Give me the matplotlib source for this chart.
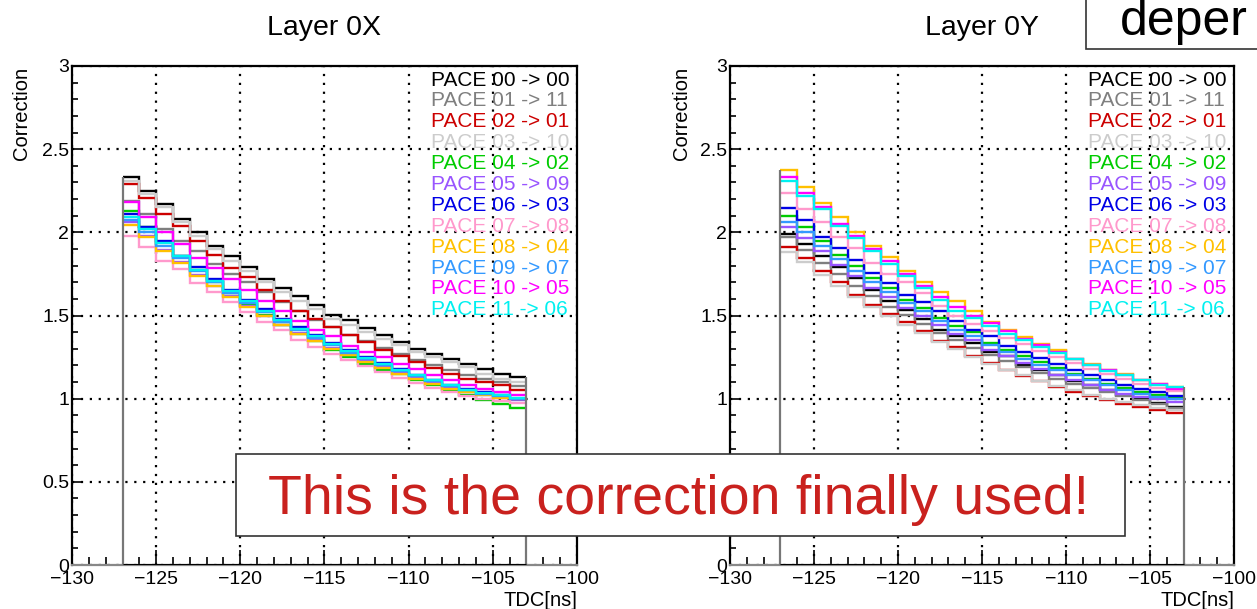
import matplotlib.pyplot as plt
import numpy as np
from matplotlib.patches import Rectangle
from matplotlib.ticker import MultipleLocator, FuncFormatter

plt.rcParams["font.family"] = ["Liberation Sans", "DejaVu Sans"]

W, H = 1257, 609

# 24 bins of 1 ns between -127 and -103 ns
TDC_EDGES = np.arange(-127, -102)

PACE_LABELS = [
    "PACE 00 -> 00", "PACE 01 -> 11", "PACE 02 -> 01", "PACE 03 -> 10",
    "PACE 04 -> 02", "PACE 05 -> 09", "PACE 06 -> 03", "PACE 07 -> 08",
    "PACE 08 -> 04", "PACE 09 -> 07", "PACE 10 -> 05", "PACE 11 -> 06",
]
PACE_COLORS = [
    "#000000", "#7f7f7f", "#cc0000", "#cccccc", "#00cc00", "#9955ff",
    "#0000e6", "#ff99cc", "#ffc000", "#3399ff", "#ff00ff", "#00f0f0",
]

# Layer 0X corrections per bin
X00 = [2.335, 2.25, 2.17, 2.08, 2.00, 1.92, 1.855, 1.79, 1.72, 1.665, 1.615, 1.565,
       1.505, 1.47, 1.425, 1.38, 1.34, 1.30, 1.27, 1.24, 1.21, 1.18, 1.15, 1.13]
X01 = [2.19, 2.11, 2.02, 1.95, 1.885, 1.81, 1.75, 1.70, 1.64, 1.58, 1.525, 1.475,
       1.43, 1.385, 1.345, 1.305, 1.27, 1.235, 1.20, 1.17, 1.14, 1.12, 1.10, 1.076]
X02 = [2.29, 2.205, 2.11, 2.04, 1.95, 1.865, 1.785, 1.73, 1.655, 1.59, 1.53, 1.48,
       1.43, 1.38, 1.34, 1.295, 1.255, 1.22, 1.185, 1.15, 1.12, 1.10, 1.08, 1.05]
X03 = [2.31, 2.23, 2.15, 2.06, 1.98, 1.90, 1.83, 1.77, 1.70, 1.64, 1.59, 1.54,
       1.48, 1.44, 1.40, 1.36, 1.32, 1.28, 1.25, 1.22, 1.19, 1.15, 1.12, 1.10]
X04 = [2.13, 2.03, 1.94, 1.855, 1.775, 1.70, 1.635, 1.57, 1.505, 1.445, 1.39, 1.345,
       1.29, 1.25, 1.21, 1.175, 1.15, 1.115, 1.08, 1.05, 1.02, 0.99, 0.965, 0.943]
X05 = [2.06, 1.975, 1.895, 1.82, 1.745, 1.68, 1.615, 1.555, 1.50, 1.445, 1.395, 1.35,
       1.305, 1.265, 1.225, 1.19, 1.155, 1.125, 1.095, 1.065, 1.04, 1.02, 1.005, 0.99]
X06 = [2.11, 2.03, 1.945, 1.86, 1.79, 1.72, 1.655, 1.595, 1.54, 1.48, 1.43, 1.38,
       1.335, 1.29, 1.25, 1.215, 1.18, 1.145, 1.115, 1.085, 1.06, 1.04, 1.02, 1.00]
X07 = [1.98, 1.91, 1.83, 1.78, 1.695, 1.64, 1.58, 1.52, 1.46, 1.41, 1.35, 1.31,
       1.27, 1.23, 1.195, 1.16, 1.125, 1.095, 1.065, 1.04, 1.015, 0.995, 0.985, 0.975]
X08 = [2.045, 1.97, 1.89, 1.815, 1.74, 1.675, 1.61, 1.55, 1.495, 1.44, 1.39, 1.345,
       1.30, 1.26, 1.22, 1.185, 1.15, 1.12, 1.09, 1.06, 1.04, 1.02, 1.005, 0.995]
X09 = [2.075, 2.00, 1.92, 1.845, 1.765, 1.70, 1.635, 1.575, 1.52, 1.46, 1.41, 1.365,
       1.32, 1.275, 1.24, 1.20, 1.165, 1.135, 1.105, 1.075, 1.05, 1.03, 1.015, 1.00]
X10 = [2.18, 2.09, 2.00, 1.93, 1.845, 1.785, 1.72, 1.655, 1.585, 1.53, 1.465, 1.41,
       1.375, 1.315, 1.28, 1.25, 1.21, 1.18, 1.145, 1.11, 1.08, 1.06, 1.04, 1.02]
X11 = [2.095, 2.02, 1.935, 1.855, 1.775, 1.71, 1.645, 1.585, 1.53, 1.47, 1.42, 1.375,
       1.33, 1.285, 1.245, 1.21, 1.175, 1.14, 1.11, 1.08, 1.055, 1.035, 1.02, 1.005]

# Layer 0Y corrections per bin
Y00 = [1.99, 1.93, 1.86, 1.79, 1.725, 1.655, 1.585, 1.535, 1.48, 1.415, 1.375, 1.335,
       1.28, 1.255, 1.205, 1.17, 1.14, 1.105, 1.08, 1.05, 1.025, 1.00, 0.975, 0.95]
Y01 = [1.97, 1.895, 1.815, 1.75, 1.675, 1.615, 1.55, 1.505, 1.45, 1.395, 1.35, 1.305,
       1.26, 1.225, 1.19, 1.155, 1.12, 1.09, 1.065, 1.04, 1.015, 0.99, 0.965, 0.945]
Y02 = [1.91, 1.845, 1.77, 1.70, 1.625, 1.565, 1.51, 1.46, 1.405, 1.345, 1.31, 1.255,
       1.215, 1.175, 1.135, 1.105, 1.07, 1.04, 1.015, 0.99, 0.97, 0.95, 0.93, 0.916]
Y03 = [1.88, 1.82, 1.745, 1.68, 1.61, 1.55, 1.495, 1.445, 1.395, 1.34, 1.30, 1.25,
       1.21, 1.175, 1.14, 1.105, 1.075, 1.05, 1.025, 1.00, 0.98, 0.96, 0.945, 0.93]
Y04 = [2.10, 2.03, 1.95, 1.865, 1.795, 1.725, 1.665, 1.595, 1.545, 1.485, 1.435, 1.40,
       1.335, 1.29, 1.255, 1.22, 1.185, 1.15, 1.12, 1.09, 1.065, 1.04, 1.02, 1.005]
Y05 = [2.03, 1.965, 1.885, 1.805, 1.74, 1.665, 1.61, 1.545, 1.495, 1.44, 1.39, 1.35,
       1.295, 1.255, 1.215, 1.18, 1.145, 1.115, 1.085, 1.055, 1.03, 1.01, 0.995, 0.982]
Y06 = [2.145, 2.075, 1.97, 1.905, 1.835, 1.755, 1.695, 1.625, 1.58, 1.525, 1.465, 1.415,
       1.375, 1.315, 1.28, 1.245, 1.21, 1.175, 1.145, 1.11, 1.085, 1.06, 1.04, 1.015]
Y07 = [2.235, 2.14, 2.06, 1.97, 1.905, 1.815, 1.75, 1.70, 1.635, 1.56, 1.50, 1.45,
       1.405, 1.365, 1.33, 1.285, 1.25, 1.215, 1.18, 1.15, 1.12, 1.09, 1.065, 1.045]
Y08 = [2.375, 2.27, 2.175, 2.095, 2.0, 1.915, 1.85, 1.77, 1.70, 1.64, 1.585, 1.53,
       1.46, 1.41, 1.37, 1.33, 1.29, 1.24, 1.21, 1.17, 1.15, 1.11, 1.09, 1.07]
Y09 = [2.065, 2.00, 1.92, 1.84, 1.77, 1.70, 1.64, 1.575, 1.525, 1.465, 1.415, 1.375,
       1.32, 1.28, 1.24, 1.205, 1.17, 1.14, 1.11, 1.08, 1.055, 1.03, 1.01, 0.995]
Y10 = [2.33, 2.235, 2.15, 2.05, 1.98, 1.90, 1.825, 1.75, 1.68, 1.61, 1.55, 1.50,
       1.455, 1.405, 1.36, 1.32, 1.28, 1.24, 1.205, 1.17, 1.145, 1.115, 1.09, 1.058]
Y11 = [2.31, 2.22, 2.14, 2.04, 1.965, 1.885, 1.81, 1.74, 1.665, 1.595, 1.525, 1.485,
       1.435, 1.39, 1.35, 1.31, 1.275, 1.24, 1.20, 1.165, 1.14, 1.11, 1.085, 1.068]

LAYER_0X = [X00, X01, X02, X03, X04, X05, X06, X07, X08, X09, X10, X11]
LAYER_0Y = [Y00, Y01, Y02, Y03, Y04, Y05, Y06, Y07, Y08, Y09, Y10, Y11]


def px_rect(x0, y0, x1, y1):
    return [x0 / W, 1 - y1 / H, (x1 - x0) / W, (y1 - y0) / H]


def root_fmt(v, _pos):
    return f"{v:g}".replace("-", "\u2212")


def draw_panel(fig, rect, title, series, title_x, ylab_x, ax_right_px):
    ax = fig.add_axes(rect)
    ax.set_xlim(-130, -100)
    ax.set_ylim(0, 3)

    ax.xaxis.set_major_locator(MultipleLocator(5))
    ax.xaxis.set_minor_locator(MultipleLocator(1))
    ax.yaxis.set_major_locator(MultipleLocator(0.5))
    ax.yaxis.set_minor_locator(MultipleLocator(0.1))
    ax.xaxis.set_major_formatter(FuncFormatter(root_fmt))
    ax.yaxis.set_major_formatter(FuncFormatter(root_fmt))
    ax.tick_params(axis="x", which="major", direction="in", length=11, width=1.2,
                   labelsize=14, pad=4.5, top=False)
    ax.tick_params(axis="x", which="minor", direction="in", length=6, width=1.2, top=False)
    ax.tick_params(axis="y", which="major", direction="in", length=7, width=1.2,
                   labelsize=14, pad=2, right=False)
    ax.tick_params(axis="y", which="minor", direction="in", length=4.5, width=1.2, right=False)

    ax.grid(True, which="major", color="black", linestyle=(0, (1, 3)), linewidth=1.6)
    for side in ("left", "top", "right"):
        ax.spines[side].set_linewidth(1.6)
    ax.spines["bottom"].set_color("#888888")
    ax.spines["bottom"].set_linewidth(1.6)

    for vals, col in zip(series, PACE_COLORS):
        ax.stairs(vals, TDC_EDGES, baseline=None, color=col, linewidth=1.7, zorder=3)

    first_max = max(v[0] for v in series)
    last_max = max(v[-1] for v in series)
    ax.vlines([TDC_EDGES[0]], 0, first_max, color="#777777", linewidth=1.6, zorder=4)
    ax.vlines([TDC_EDGES[-1]], 0, last_max, color="#777777", linewidth=1.6, zorder=4)
    ax.hlines(0, TDC_EDGES[0], TDC_EDGES[-1], color="black", linewidth=2.2, zorder=4)

    # legend: coloured text only, no box
    for i, (lab, col) in enumerate(zip(PACE_LABELS, PACE_COLORS)):
        y_px = 80 + 20.9 * i
        ax.text(0.711, 1 - (y_px - 66) / 499, lab, transform=ax.transAxes,
                color=col, fontsize=15, va="center", ha="left", zorder=5)

    fig.text(title_x / W, 1 - 35 / H, title, fontsize=20.5, ha="center", va="baseline")
    fig.text(ylab_x / W, 1 - 67 / H, "Correction", rotation=90, fontsize=14.5,
             ha="center", va="top")
    fig.text(ax_right_px / W, 1 - 600 / H, "TDC[ns]", fontsize=14.5,
             ha="right", va="center")
    return ax


def main():
    fig = plt.figure(figsize=(W / 100, H / 100), dpi=100)

    draw_panel(fig, px_rect(72, 66, 577, 565), "Layer 0X", LAYER_0X, 324.5, 22, 577)
    draw_panel(fig, px_rect(730, 66, 1234, 565), "Layer 0Y", LAYER_0Y, 982, 681, 1234)

    # slide overlays
    fig.add_artist(Rectangle((236 / W, 1 - 536 / H), (1125 - 236) / W, (536 - 454) / H,
                             transform=fig.transFigure, facecolor="white",
                             edgecolor="#333333", linewidth=1.2, zorder=10))
    fig.text(678 / W, 1 - 514 / H, "This is the correction finally used!",
             fontsize=40, color="#c9211e", ha="center", va="baseline", zorder=11)

    fig.add_artist(Rectangle((1086 / W, 1 - 49 / H), 300 / W, 100 / H,
                             transform=fig.transFigure, facecolor="white",
                             edgecolor="#333333", linewidth=1.2, zorder=10))
    fig.text(1120 / W, 1 - 35 / H, "deper", fontsize=36, color="black",
             ha="left", va="baseline", zorder=11)

    fig.savefig("out.png", dpi=100)
    plt.close(fig)


if __name__ == "__main__":
    main()
